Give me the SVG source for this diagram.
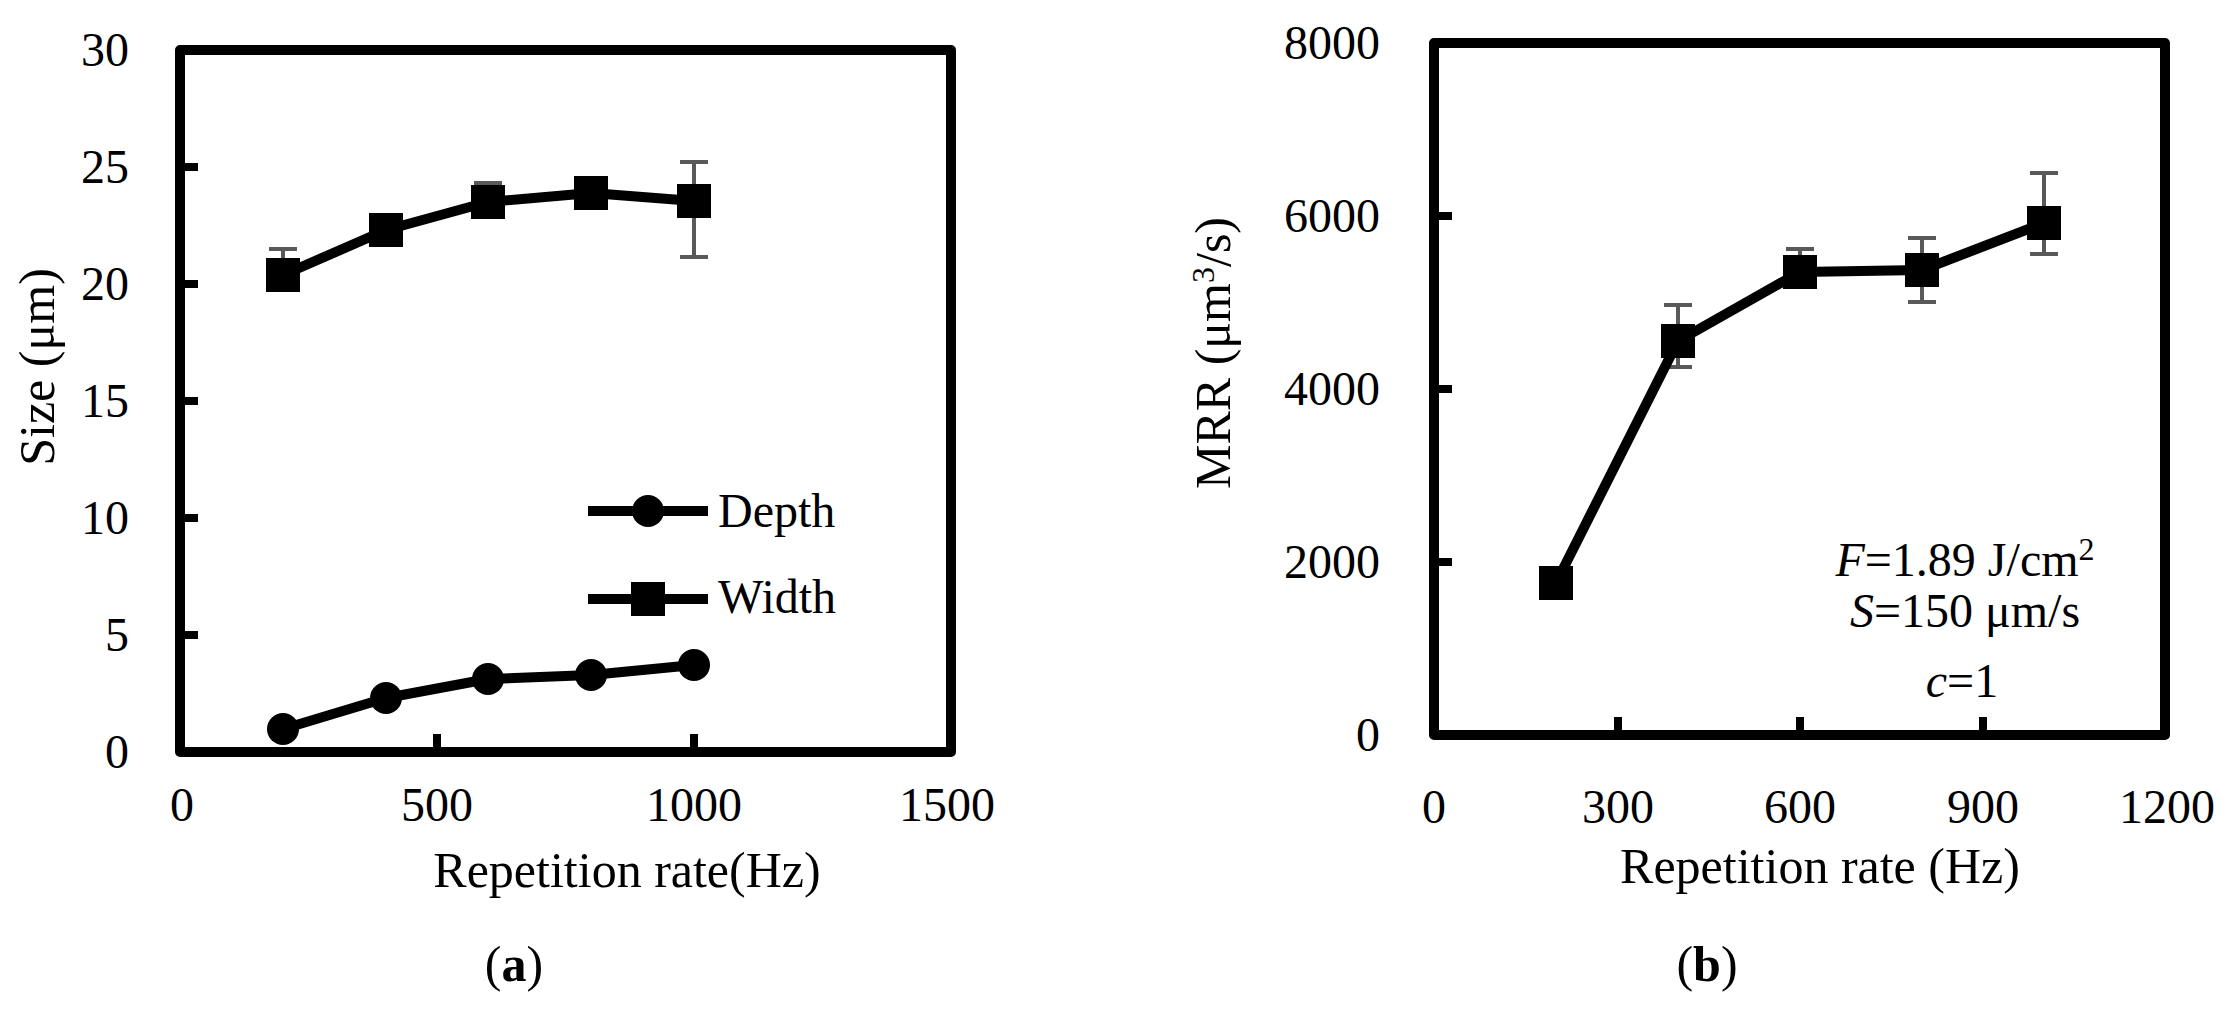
<svg xmlns="http://www.w3.org/2000/svg" width="2237" height="1017" viewBox="0 0 2237 1017">
<style>
text{font-family:"Liberation Serif","Times New Roman",serif;font-size:48px;fill:#000}
.fr{fill:none;stroke:#000;stroke-width:10;stroke-linejoin:round}
.tk{stroke:#000;stroke-width:8}
.ln{fill:none;stroke:#000;stroke-width:10;stroke-linejoin:round}
.eb{fill:none;stroke:#595959;stroke-width:4}
.r{text-anchor:end}
.m{text-anchor:middle}
</style>
<defs>
<rect id="sq" x="-17" y="-17" width="34" height="34" fill="#000"/>
<circle id="ci" r="16" fill="#000"/>
</defs>
<g id="chart-a">
<rect class="fr" x="180" y="50" width="771" height="702"/>
<g class="tk">
<path d="M180 167h18M180 284h18M180 401h18M180 518h18M180 635h18"/>
<path d="M437 752v-18M694 752v-18"/>
</g>
<g class="r">
<text x="129" y="66">30</text><text x="129" y="183">25</text><text x="129" y="300">20</text><text x="129" y="417">15</text><text x="129" y="534">10</text><text x="129" y="651">5</text><text x="129" y="768">0</text>
</g>
<g class="m">
<text x="182" y="821">0</text><text x="437" y="821">500</text><text x="694" y="821">1000</text><text x="947" y="821">1500</text>
<text x="627" y="887" style="font-size:50px">Repetition rate(Hz)</text>
<text x="514" y="981" style="font-size:50px">(<tspan font-weight="bold">a</tspan>)</text>
<text transform="translate(54 367) rotate(-90)" style="font-size:50px">Size (μm)</text>
</g>
<g class="eb">
<path d="M283 275V249M269 249h28M488 202V183M474 183h28M694 162V257M680 162h28M680 257h28"/>
</g>
<polyline class="ln" points="283,729 386,698 488,679 591,675 694,665"/>
<polyline class="ln" points="283,275 386,230 488,202 591,193 694,201"/>
<use href="#ci" x="283" y="729"/><use href="#ci" x="386" y="698"/><use href="#ci" x="488" y="679"/><use href="#ci" x="591" y="675"/><use href="#ci" x="694" y="665"/>
<use href="#sq" x="283" y="275"/><use href="#sq" x="386" y="230"/><use href="#sq" x="488" y="202"/><use href="#sq" x="591" y="193"/><use href="#sq" x="694" y="201"/>
<g id="legend">
<path class="ln" d="M588 511H708M588 599H708"/>
<use href="#ci" x="648" y="511"/><use href="#sq" x="648" y="599"/>
<text x="718" y="527">Depth</text><text x="718" y="613">Width</text>
</g>
</g>
<g id="chart-b">
<rect class="fr" x="1434" y="43" width="731" height="692"/>
<g class="tk">
<path d="M1434 216h18M1434 389h18M1434 562h18"/>
<path d="M1618 735v-18M1800 735v-18M1983 735v-18"/>
</g>
<g class="r">
<text x="1380" y="59">8000</text><text x="1380" y="232">6000</text><text x="1380" y="405">4000</text><text x="1380" y="578">2000</text><text x="1380" y="751">0</text>
</g>
<g class="m">
<text x="1434" y="823">0</text><text x="1618" y="823">300</text><text x="1800" y="823">600</text><text x="1983" y="823">900</text><text x="2167" y="823">1200</text>
<text x="1820" y="883" style="font-size:50px">Repetition rate (Hz)</text>
<text x="1707" y="981" style="font-size:50px">(<tspan font-weight="bold">b</tspan>)</text>
<text transform="translate(1230 353) rotate(-90)" style="font-size:50px">MRR (μm<tspan dy="-16" font-size="32">3</tspan><tspan dy="16">/s)</tspan></text>
<text x="1965" y="576"><tspan font-style="italic">F</tspan>=1.89 J/cm<tspan dy="-16" font-size="32">2</tspan></text>
<text x="1965" y="627"><tspan font-style="italic">S</tspan>=150 μm/s</text>
<text x="1962" y="697"><tspan font-style="italic">c</tspan>=1</text>
</g>
<g class="eb">
<path d="M1678 305V367M1664 305h28M1664 367h28M1800 249V272M1786 249h28M1922 238V302M1908 238h28M1908 302h28M2044 173V254M2030 173h28M2030 254h28"/>
</g>
<polyline class="ln" points="1556,583 1678,341 1800,272 1922,270 2044,223"/>
<use href="#sq" x="1556" y="583"/><use href="#sq" x="1678" y="341"/><use href="#sq" x="1800" y="272"/><use href="#sq" x="1922" y="270"/><use href="#sq" x="2044" y="223"/>
</g>
</svg>
